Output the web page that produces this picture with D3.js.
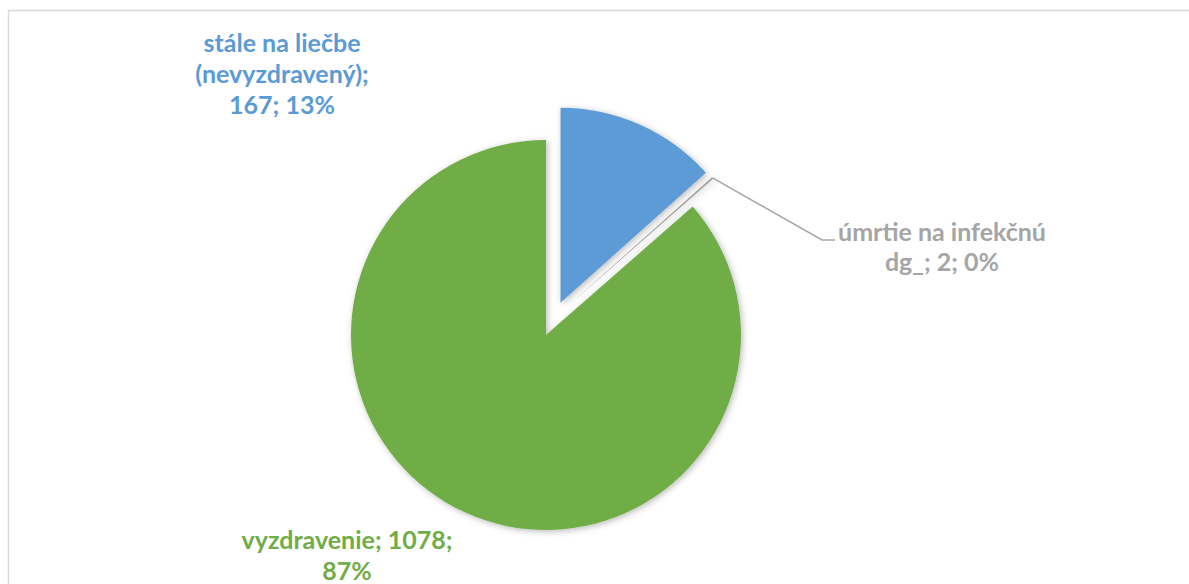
<!DOCTYPE html>
<html>
<head>
<meta charset="utf-8">
<script src="https://cdn.jsdelivr.net/npm/d3@7"></script>
<style>
html,body{margin:0;padding:0;background:#fff;}
svg{display:block;}
text{font-family:Lato,"Open Sans",sans-serif;font-weight:bold;}
</style>
</head>
<body>
<svg id="chart" width="1189" height="584"></svg>
<script>
const categories = ["stále na liečbe (nevyzdravený)", "úmrtie na infekčnú dg_", "vyzdravenie"];
const values = [167, 2, 1078];
const percents = ["13%", "0%", "87%"];
const colors = ["#5B9BD5", "#A5A5A5", "#70AD47"];
const labelLines = [
  ["stále na liečbe", "(nevyzdravený);", "167; 13%"],
  ["úmrtie na infekčnú", "dg_; 2; 0%"],
  ["vyzdravenie; 1078;", "87%"]
];

const W = 1189, H = 584;
const svg = d3.select("#chart");

// frame
svg.append("path")
  .attr("d", `M8.5,${H} L8.5,10.5 L${W},10.5`)
  .attr("fill","none").attr("stroke","#d9d9d9").attr("stroke-width",1.5);

const defs = svg.append("defs");
const f = defs.append("filter").attr("id","sh").attr("x","-20%").attr("y","-20%").attr("width","140%").attr("height","140%");
f.append("feDropShadow").attr("dx",1.5).attr("dy",1.5).attr("stdDeviation",3)
  .attr("flood-color","#000").attr("flood-opacity",0.28);

const cx = 553.3, cy = 318.9, R = 195, explode = 17.7;

const pie = d3.pie().sort(null).value(d => d).startAngle(0).endAngle(2*Math.PI);
const arcs = pie(values);
const arc = d3.arc().innerRadius(0).outerRadius(R);

const g = svg.append("g").attr("transform", `translate(${cx},${cy})`);

g.selectAll("path.slice").data(arcs).join("path")
  .attr("class","slice")
  .attr("d", arc)
  .attr("fill", (d,i) => colors[i])
  .attr("filter","url(#sh)")
  .attr("transform", d => {
    const m = (d.startAngle + d.endAngle)/2;
    return `translate(${explode*Math.sin(m)},${-explode*Math.cos(m)})`;
  });

// leader line for the small slice
const gd = arcs[1];
const gm = (gd.startAngle + gd.endAngle)/2;
const sx = cx + (R + explode) * Math.sin(gm);
const sy = cy - (R + explode) * Math.cos(gm);
svg.append("polyline")
  .attr("points", `${sx},${sy} 822,240 835,240`)
  .attr("fill","none").attr("stroke","#A5A5A5").attr("stroke-width",1.5);

// labels
const labelPos = [
  {x: 282, y: 52, lh: 31},
  {x: 942, y: 241, lh: 29.5},
  {x: 347, y: 549, lh: 31}
];
labelLines.forEach((lines, i) => {
  const t = svg.append("text")
    .attr("text-anchor","middle")
    .attr("fill", colors[i])
    .attr("font-size", 25);
  lines.forEach((ln, j) => {
    t.append("tspan").attr("x", labelPos[i].x).attr("y", labelPos[i].y + j*labelPos[i].lh).text(ln);
  });
});
</script>
</body>
</html>
